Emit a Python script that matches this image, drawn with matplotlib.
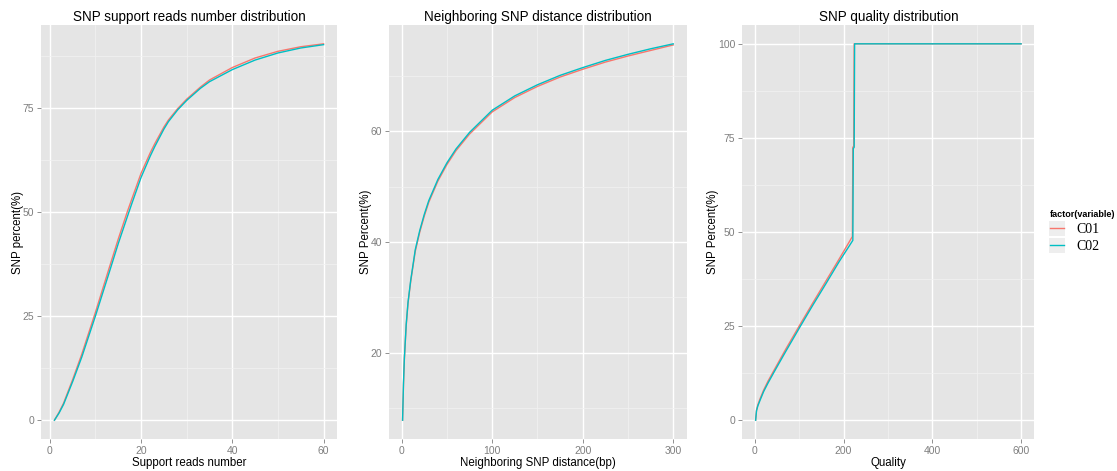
import matplotlib
matplotlib.use("Agg")
import matplotlib.pyplot as plt
from matplotlib.lines import Line2D
from matplotlib.patches import Rectangle

# SNP support reads number distribution
reads_x = [1, 2, 3, 5, 7, 10, 13, 15, 17, 18, 20, 22, 23, 25, 26, 28, 30, 33, 35, 40, 45, 50, 55, 60]
reads_c01 = [0, 1.9, 4.1, 9.8, 15.9, 26.0, 36.6, 43.6, 50.2, 53.3, 59.4, 64.3, 66.5, 70.5, 72.2, 74.9, 77.2, 80.1, 81.8, 84.8, 87.1, 88.7, 89.8, 90.5]
reads_c02 = [0, 1.7, 3.8, 9.3, 15.2, 25.1, 35.5, 42.5, 49.0, 52.2, 58.4, 63.5, 65.8, 70.0, 71.8, 74.6, 76.9, 79.8, 81.4, 84.3, 86.6, 88.3, 89.5, 90.3]

# Neighboring SNP distance distribution
dist_x = [1, 2, 3, 5, 7, 10, 15, 20, 25, 30, 40, 50, 60, 75, 100, 125, 150, 175, 200, 225, 250, 275, 300]
dist_c01 = [7.8, 14.3, 18.9, 24.9, 28.9, 32.9, 38.3, 41.8, 44.7, 47.2, 51.0, 54.0, 56.5, 59.5, 63.5, 66.1, 68.1, 69.8, 71.2, 72.5, 73.6, 74.6, 75.6]
dist_c02 = [7.8, 14.5, 19.1, 25.1, 29.1, 33.1, 38.6, 42.1, 45.0, 47.5, 51.3, 54.3, 56.8, 59.8, 63.8, 66.4, 68.4, 70.1, 71.5, 72.8, 73.9, 74.9, 75.8]

# SNP quality distribution
qual_x_c01 = [2, 4, 7, 12, 20, 30, 45, 70, 100, 130, 160, 190, 219, 220, 221, 223, 224, 600]
qual_c01 = [0, 2.7, 4.1, 5.7, 8.0, 10.4, 13.6, 18.9, 25.0, 31.0, 36.9, 42.8, 48.6, 48.8, 72.5, 72.8, 100, 100]
qual_x_c02 = [2, 4, 7, 12, 20, 30, 45, 70, 100, 130, 160, 190, 220, 221, 222, 224, 225, 600]
qual_c02 = [0, 2.5, 3.8, 5.3, 7.6, 9.9, 13.1, 18.3, 24.4, 30.4, 36.2, 42.1, 47.6, 47.8, 72.2, 72.5, 100, 100]

samples = ["C01", "C02"]
colors = ["#F8766D", "#00BFC4"]

panels = [
    ("SNP support reads number distribution", "Support reads number", "SNP percent(%)",
     reads_x, reads_x, reads_c01, reads_c02, [0, 20, 40, 60], [0, 25, 50, 75]),
    ("Neighboring SNP distance distribution", "Neighboring SNP distance(bp)", "SNP Percent(%)",
     dist_x, dist_x, dist_c01, dist_c02, [0, 100, 200, 300], [20, 40, 60]),
    ("SNP quality distribution", "Quality", "SNP Percent(%)",
     qual_x_c01, qual_x_c02, qual_c01, qual_c02, [0, 200, 400, 600], [0, 25, 50, 75, 100]),
]

plt.rcParams["font.family"] = ["Liberation Sans", "DejaVu Sans"]

fig = plt.figure(figsize=(11.17, 4.71), dpi=100)
lefts = [0.0367, 0.3483, 0.6646]
widths = [0.265, 0.2665, 0.2614]

for (title, xlab, ylab, x1, x2, y1, y2, xt, yt), l, w in zip(panels, lefts, widths):
    ax = fig.add_axes([l, 0.0679, w, 0.879])
    ax.set_facecolor("#E5E5E5")
    for s in ax.spines.values():
        s.set_visible(False)
    ax.plot(x1, y1, color=colors[0], lw=1.0, zorder=3)
    ax.plot(x2, y2, color=colors[1], lw=1.0, zorder=3)

    xmin = min(x1 + x2); xmax = max(x1 + x2)
    ymin = min(y1 + y2); ymax = max(y1 + y2)
    dx = (xmax - xmin) * 0.05; dy = (ymax - ymin) * 0.05

    ax.set_xticks(xt)
    ax.set_yticks(yt)
    sx = xt[1] - xt[0]; sy = yt[1] - yt[0]
    ax.set_xticks([v + sx / 2 for v in [xt[0] - sx] + xt], minor=True)
    ax.set_yticks([v + sy / 2 for v in [yt[0] - sy] + yt], minor=True)
    ax.set_xlim(xmin - dx, xmax + dx)
    ax.set_ylim(ymin - dy, ymax + dy)
    ax.grid(which="major", color="white", lw=1.0)
    ax.grid(which="minor", color="#F2F2F2", lw=0.5)
    ax.set_axisbelow(True)
    ax.tick_params(which="major", length=3, width=0.6, color="#7F7F7F",
                   labelcolor="#7F7F7F", labelsize=7.5, pad=2)
    ax.tick_params(which="minor", length=0)

    ax.set_title(title, fontsize=9.75, pad=3)
    ax.set_xlabel(xlab, fontsize=8.3, labelpad=1)
    ax.set_ylabel(ylab, fontsize=8.3, labelpad=-1)

# legend
handles = [Line2D([], [], color=c, lw=1.0) for c in colors]
leg = fig.legend(handles, samples, title="factor(variable)", loc="upper left",
                 bbox_to_anchor=(0.931, 0.575), frameon=False,
                 prop={"family": "Liberation Serif", "size": 10},
                 title_fontproperties={"weight": "bold", "size": 6.5},
                 handlelength=1.0, handletextpad=0.95, labelspacing=0.3,
                 borderpad=0.2)
leg._legend_box.align = "left"
fig.canvas.draw()
rend = fig.canvas.get_renderer()
for h in leg.get_lines():
    bb = h.get_window_extent(rend)
    cy = (bb.y0 + bb.y1) / 2
    r = Rectangle(((bb.x0 - 1) / fig.bbox.width, (cy - 7.5) / fig.bbox.height),
                  16 / fig.bbox.width, 15 / fig.bbox.height,
                  transform=fig.transFigure, facecolor="#EEEEEE",
                  edgecolor="none", zorder=0)
    fig.patches.append(r)

fig.savefig("out.png", dpi=100)
